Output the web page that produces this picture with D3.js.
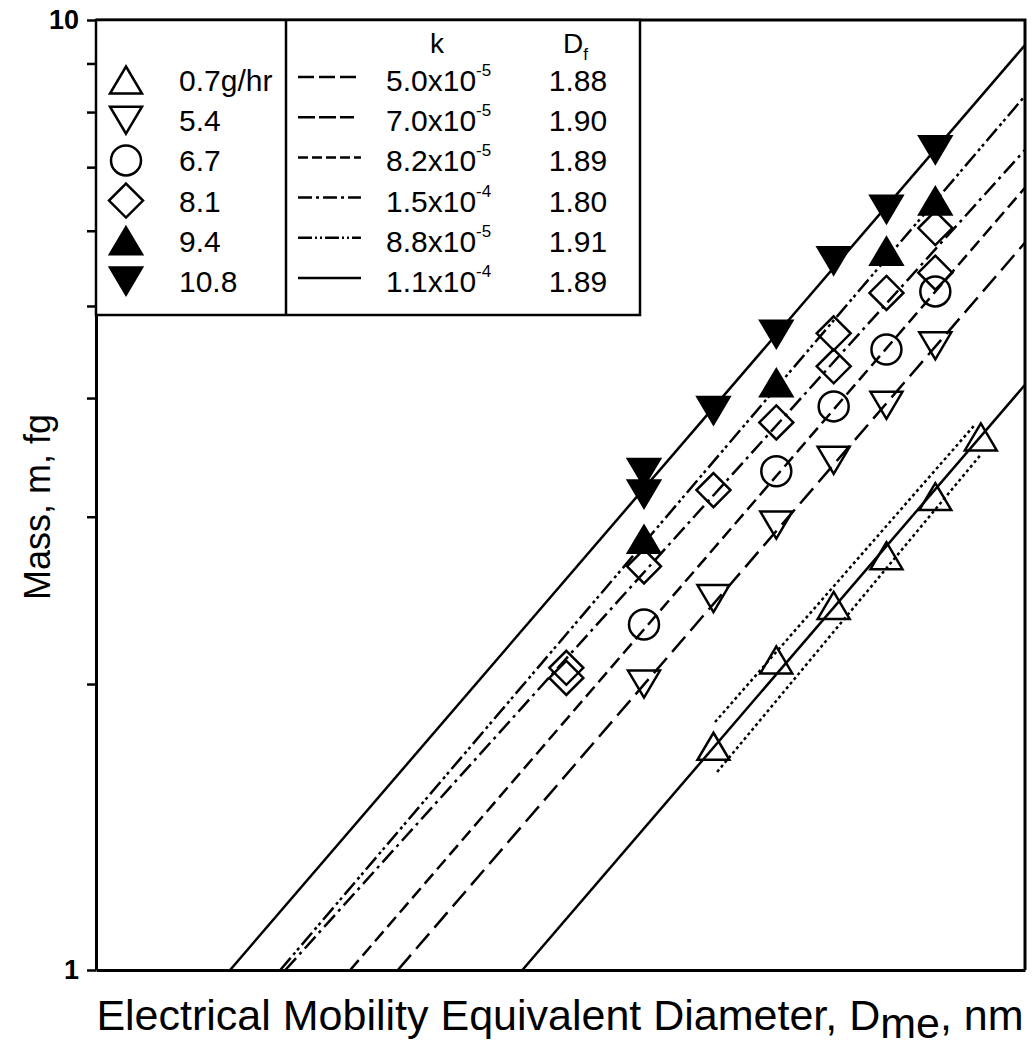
<!DOCTYPE html>
<html>
<head>
<meta charset="utf-8">
<script src="https://cdn.jsdelivr.net/npm/d3@7"></script>
<style>
  body { margin: 0; background: #fff; }
  svg { display: block; }
  text { font-family: "Liberation Sans", Arial, sans-serif; fill: #000; }
</style>
</head>
<body>
<div id="chart"></div>
<script>
// series: feed rate (g/hr) and fit parameters from the legend
const rates = ["0.7g/hr", "5.4", "6.7", "8.1", "9.4", "10.8"];
const shapes = ["triUp", "triDown", "circle", "diamond", "triUpFill", "triDownFill"];
const kMant = ["5.0", "7.0", "8.2", "1.5", "8.8", "1.1"];
const kExp = ["-5", "-5", "-5", "-4", "-5", "-4"];
const dfVals = ["1.88", "1.90", "1.89", "1.80", "1.91", "1.89"];

// measured points: mobility diameter (nm) / mass (fg)
const d07 = [250, 275, 300, 325, 350, 375];
const m07 = [1.72, 2.12, 2.42, 2.73, 3.15, 3.64];
const d54 = [225, 250, 275, 300, 325, 350];
const m54 = [2.00, 2.46, 2.94, 3.44, 3.93, 4.54];
const d67 = [225, 275, 300, 325, 350];
const m67 = [2.31, 3.35, 3.92, 4.50, 5.18];
const d81 = [200, 200, 225, 250, 275, 300, 300, 325, 350, 350];
const m81 = [2.03, 2.08, 2.66, 3.20, 3.77, 4.32, 4.68, 5.16, 5.42, 6.04];
const d94 = [225, 275, 325, 350];
const m94 = [2.84, 4.15, 5.71, 6.45];
const d108 = [225, 225, 250, 275, 300, 325, 350];
const m108 = [3.17, 3.34, 3.88, 4.67, 5.58, 6.32, 7.30];

// fitted lines: diameter where each line crosses 1 fg, mass at 401 nm
const fitStartD = [187.1, 154.9, 144.1, 130.6, 129.6, 120.1];
const fitEndM = [4.13, 5.83, 6.66, 7.30, 8.32, 9.41];

// dotted confidence lines around the 0.7 g/hr fit
const bandUpD = [250.6, 371.7];
const bandUpM = [1.824, 3.75];
const bandLoD = [251.4, 374.6];
const bandLoM = [1.616, 3.48];

const yTicks = [1, 2, 3, 4, 5, 6, 7, 8, 9, 10];

const seriesD = [d07, d54, d67, d81, d94, d108];
const seriesM = [m07, m54, m67, m81, m94, m108];

// styles
const plotDash = [null, "20,8", "13,6", "16,5,3,5", "16,4,3,3,3,4", null];
const legendDash = ["16,5", "17,4", "10,4", "14,4,3,4", "14,3,2,3,2,3", null];

const width = 1033, height = 1049;
const margin = { top: 20, right: 8, bottom: 79, left: 96 };

const svg = d3.select("#chart").append("svg")
  .attr("width", width)
  .attr("height", height);

const x = d3.scaleLog().domain([98, 401]).range([margin.left, width - margin.right]);
const y = d3.scaleLog().domain([1, 10]).range([height - margin.bottom, margin.top]);

svg.append("clipPath").attr("id", "plotClip")
  .append("rect")
  .attr("x", margin.left).attr("y", margin.top)
  .attr("width", width - margin.right - margin.left)
  .attr("height", height - margin.bottom - margin.top);

const plot = svg.append("g").attr("clip-path", "url(#plotClip)");

const line = d3.line().x(d => x(d[0])).y(d => y(d[1]));

// fit lines
fitStartD.forEach((d0, i) => {
  plot.append("path")
    .datum([[d0, 1], [401, fitEndM[i]]])
    .attr("fill", "none")
    .attr("stroke", "#000")
    .attr("stroke-width", 2.5)
    .attr("stroke-dasharray", plotDash[i])
    .attr("d", line);
});

[[bandUpD, bandUpM], [bandLoD, bandLoM]].forEach(([ds, ms]) => {
  plot.append("path")
    .datum(ds.map((d, j) => [d, ms[j]]))
    .attr("fill", "none")
    .attr("stroke", "#000")
    .attr("stroke-width", 2.5)
    .attr("stroke-dasharray", "3,3")
    .attr("d", line);
});

// marker shapes
function shapePath(shape) {
  const tw = 16, th = 13.5, dr = 17;
  if (shape.startsWith("triUp")) return `M0,${-th}L${tw},${th}L${-tw},${th}Z`;
  if (shape.startsWith("triDown")) return `M0,${th}L${tw},${-th}L${-tw},${-th}Z`;
  if (shape === "diamond") return `M0,${-dr}L${dr},0L0,${dr}L${-dr},0Z`;
  return d3.symbol(d3.symbolCircle, Math.PI * 15 * 15)();
}

function drawMarker(g, shape, cx, cy) {
  g.append("path")
    .attr("transform", `translate(${cx},${cy})`)
    .attr("d", shapePath(shape))
    .attr("fill", shape.endsWith("Fill") ? "#000" : "#fff")
    .attr("fill-opacity", shape.endsWith("Fill") ? 1 : 0)
    .attr("stroke", "#000")
    .attr("stroke-width", 2.5);
}

seriesD.forEach((ds, i) => {
  ds.forEach((d, j) => drawMarker(plot, shapes[i], x(d), y(seriesM[i][j])));
});

// axes
const yAxis = svg.append("g")
  .attr("transform", `translate(${margin.left},0)`)
  .call(d3.axisLeft(y)
    .tickValues(yTicks)
    .tickFormat(d => (d === 1 || d === 10) ? d3.format("d")(d) : "")
    .tickSize(9)
    .tickSizeOuter(0)
    .tickPadding(8));
yAxis.select(".domain").attr("stroke-width", 3);
yAxis.selectAll(".tick line").attr("stroke-width", 2.5);
yAxis.selectAll(".tick text")
  .attr("font-size", 27)
  .attr("font-weight", "bold")
  .attr("font-family", "Liberation Sans, Arial, sans-serif");

const xAxis = svg.append("g")
  .attr("transform", `translate(0,${height - margin.bottom})`)
  .call(d3.axisBottom(x).tickValues([]).tickSizeOuter(0));
xAxis.select(".domain").attr("stroke-width", 3);

// frame top and right
svg.append("path")
  .attr("d", `M${margin.left},${margin.top}H${width - margin.right}V${height - margin.bottom}`)
  .attr("fill", "none")
  .attr("stroke", "#000")
  .attr("stroke-width", 3);

// legend
const lg = svg.append("g");
lg.append("rect")
  .attr("x", margin.left).attr("y", margin.top)
  .attr("width", 640 - margin.left).attr("height", 315 - margin.top)
  .attr("fill", "#fff").attr("stroke", "#000").attr("stroke-width", 2.5);
lg.append("line")
  .attr("x1", 286).attr("x2", 286).attr("y1", margin.top).attr("y2", 315)
  .attr("stroke", "#000").attr("stroke-width", 2.5);

lg.append("text").attr("x", 437).attr("y", 53)
  .attr("text-anchor", "middle").attr("font-size", 28).text("k");
const dfHead = lg.append("text").attr("x", 563).attr("y", 53).attr("font-size", 28);
dfHead.append("tspan").text("D");
dfHead.append("tspan").attr("font-size", 17).attr("dy", 7).text("f");

rates.forEach((r, i) => {
  const ry = 80 + i * 40.2;
  drawMarker(lg, shapes[i], 126, ry);
  lg.append("text").attr("x", 179).attr("y", ry + 11).attr("font-size", 30).text(r);
  lg.append("line")
    .attr("x1", 298).attr("x2", i === 1 ? 354 : 361)
    .attr("y1", ry - 3).attr("y2", ry - 3)
    .attr("stroke", "#000").attr("stroke-width", 2.5)
    .attr("stroke-dasharray", legendDash[i]);
  const kt = lg.append("text").attr("x", 386).attr("y", ry + 11).attr("font-size", 30);
  kt.append("tspan").text(kMant[i] + "x10");
  kt.append("tspan").attr("font-size", 17).attr("dy", -15).text(kExp[i]);
  lg.append("text").attr("x", 578).attr("y", ry + 11)
    .attr("text-anchor", "middle").attr("font-size", 30).text(dfVals[i]);
});

// axis titles
svg.append("text")
  .attr("transform", "translate(50,507) rotate(-90)")
  .attr("text-anchor", "middle")
  .attr("font-size", 36)
  .text("Mass, m, fg");

const xt = svg.append("text")
  .attr("x", 560).attr("y", 1030)
  .attr("text-anchor", "middle")
  .attr("font-size", 43);
xt.append("tspan").text("Electrical Mobility Equivalent Diameter, D");
xt.append("tspan").attr("dy", 8).text("me");
xt.append("tspan").attr("dy", -8).text(", nm");
</script>
</body>
</html>
